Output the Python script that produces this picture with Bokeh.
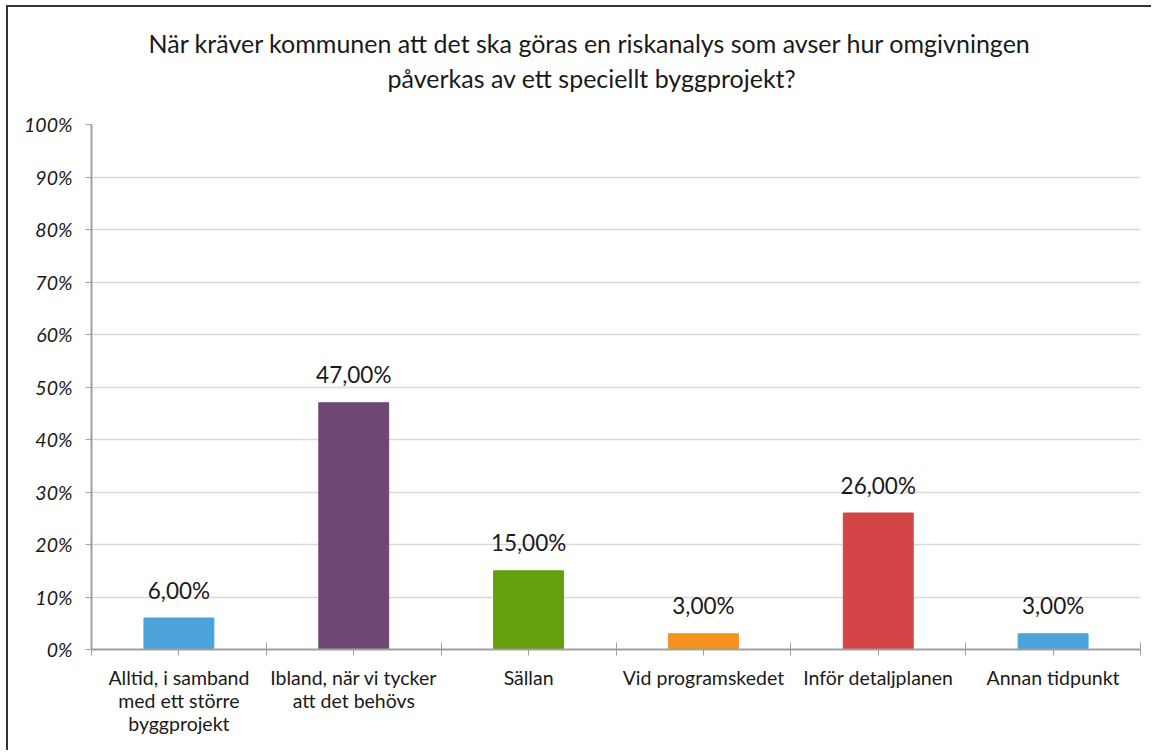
from bokeh.plotting import figure
from bokeh.models import (Range1d, FixedTicker, NumeralTickFormatter, Title, ColumnDataSource)
from bokeh.core.properties import value
from bokeh.embed import file_html
from bokeh.resources import INLINE

title_lines = ["När kräver kommunen att det ska göras en riskanalys som avser hur omgivningen",
               "påverkas av ett speciellt byggprojekt?"]
categories = ["Alltid, i samband\nmed ett större\nbyggprojekt",
              "Ibland, när vi tycker\natt det behövs",
              "Sällan",
              "Vid programskedet",
              "Inför detaljplanen",
              "Annan tidpunkt"]
values = [0.06, 0.47, 0.15, 0.03, 0.26, 0.03]
value_labels = ["6,00%", "47,00%", "15,00%", "3,00%", "26,00%", "3,00%"]
colors = ["#4ba3da", "#6e4773", "#659f0d", "#f4931f", "#d34546", "#4ba3da"]
y_ticks = [0.0, 0.1, 0.2, 0.3, 0.4, 0.5, 0.6, 0.7, 0.8, 0.9, 1.0]

FONT = "Lato"
idx = list(range(len(categories)))
src = ColumnDataSource(dict(x=idx, top=values, color=colors, lab=value_labels))

p = figure(width=1145, height=745, output_backend="svg", toolbar_location=None, title=None,
           x_range=Range1d(-0.5, len(categories) - 0.5), y_range=Range1d(0, 1),
           min_border_left=83, min_border_right=13, min_border_top=117, min_border_bottom=103)
p.styles = {"margin-left": "6px", "margin-top": "5px",
            "border-left": "2px solid #333333", "border-top": "2px solid #333333"}
p.outline_line_color = None
p.background_fill_color = "white"
p.border_fill_color = "white"

p.vbar(x="x", top="top", width=0.4, color="color", source=src)
p.text(x="x", y="top", text="lab", source=src, text_align="center", text_baseline="alphabetic",
       y_offset=-28, text_font=value(FONT), text_font_size="22.5px", text_color="#1a1a1a")

# x axis
xa = p.xaxis[0]
xa.ticker = FixedTicker(ticks=idx, minor_ticks=[i - 0.5 for i in range(len(categories) + 1)])
xa.major_label_overrides = {i: c for i, c in zip(idx, categories)}
xa.axis_line_color = "#a0a0a0"
xa.axis_line_width = 2
xa.major_tick_line_color = "#a0a0a0"
xa.major_tick_in = 0
xa.major_tick_out = 6
xa.minor_tick_line_color = "#a0a0a0"
xa.minor_tick_in = 7
xa.minor_tick_out = 6
xa.major_label_standoff = 10
xa.major_label_text_font = FONT
xa.major_label_text_font_size = "19.5px"
xa.major_label_text_color = "#1a1a1a"
xa.major_label_text_line_height = 1.0

# y axis
ya = p.yaxis[0]
ya.ticker = FixedTicker(ticks=y_ticks, minor_ticks=[])
ya.formatter = NumeralTickFormatter(format="0%")
ya.axis_line_color = "#a0a0a0"
ya.axis_line_width = 2
ya.major_tick_line_color = "#a0a0a0"
ya.major_tick_in = 0
ya.major_tick_out = 6
ya.minor_tick_line_color = None
ya.major_label_standoff = 13
ya.major_label_text_font = FONT
ya.major_label_text_font_size = "19.5px"
ya.major_label_text_font_style = "italic"
ya.major_label_text_color = "#1a1a1a"

p.xgrid.grid_line_color = None
p.ygrid.ticker = FixedTicker(ticks=y_ticks)
p.ygrid.grid_line_color = "#d9d9d9"
p.ygrid.grid_line_width = 1.5

# title: spacer nearest the plot, then second line, then first line
p.add_layout(Title(text=" ", text_font_size="1px", standoff=26), "above")
p.add_layout(Title(text=title_lines[1], align="left", offset=296, text_font=FONT,
                   text_font_size="25px", text_font_style="normal", text_color="#1a1a1a",
                   standoff=6), "above")
p.add_layout(Title(text=title_lines[0], align="left", offset=57, text_font=FONT,
                   text_font_size="25px", text_font_style="normal", text_color="#1a1a1a",
                   standoff=0), "above")

open("out.html", "w").write(file_html(p, INLINE))
